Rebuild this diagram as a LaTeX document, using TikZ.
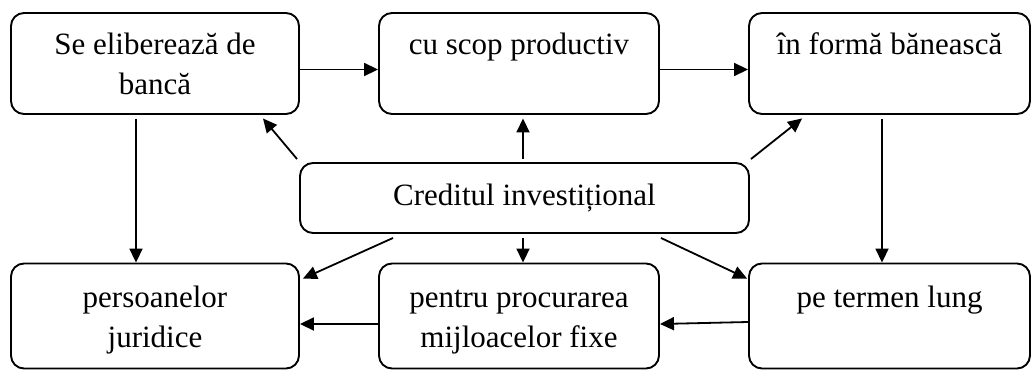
\documentclass[tikz,border=0pt]{standalone}
\usepackage{fontspec}
\setmainfont{Liberation Serif}
\usetikzlibrary{arrows.meta}
\newcommand\Ln{\rule[-9pt]{0pt}{40pt}}
\newcommand\Lc{\rule[-13pt]{0pt}{40pt}}
\begin{document}
\begin{tikzpicture}[x=1pt,y=-1pt,
  box/.style={draw, rounded corners=13pt, line width=1.9pt, inner sep=0pt, align=center,
    font=\fontsize{31}{40}\selectfont},
  arr/.style={line width=1.8pt, -{Triangle[length=14pt,width=13pt]}}]
\useasboundingbox (0,0) rectangle (1032,369);
\node[box, minimum width=288pt, minimum height=101pt] (b1) at (155,63.5) {\Ln Se eliberează de\\\Ln bancă};
\node[box, minimum width=280pt, minimum height=101pt] (b2) at (519,63.5) {\Ln cu scop productiv\\\Ln};
\node[box, minimum width=281pt, minimum height=101pt] (b3) at (889.5,63.5) {\Ln în formă bănească\\\Ln};
\node[box, minimum width=449pt, minimum height=70pt] (c) at (524.5,198) {\Lc Creditul investițional};
\node[box, minimum width=288pt, minimum height=105pt] (b4) at (155,316) {\Ln persoanelor\\\Ln juridice};
\node[box, minimum width=280pt, minimum height=105pt] (b5) at (519,316) {\Ln pentru procurarea\\\Ln mijloacelor fixe};
\node[box, minimum width=281pt, minimum height=105pt] (b6) at (889.5,316) {\Ln pe termen lung\\\Ln};
\draw[arr] ([yshift=-6pt]b1.east) -- ([yshift=-6pt]b2.west);
\draw[arr] ([yshift=-6pt]b2.east) -- ([yshift=-6pt]b3.west);
\draw[arr] ([xshift=-19pt,yshift=-4pt]b1.south) -- ([xshift=-19pt]b4.north);
\draw[arr] ([xshift=-7.5pt,yshift=-4pt]b3.south) -- ([xshift=-7.5pt]b6.north);
\draw[arr] ([xshift=-2pt,yshift=3pt]c.north west) -- ([xshift=-37pt,yshift=-3.5pt]b1.south east);
\draw[arr] ([xshift=-1.5pt,yshift=3pt]c.north) -- ([xshift=4pt,yshift=-3.5pt]b2.south);
\draw[arr] ([xshift=1pt,yshift=3pt]c.north east) -- ([xshift=54pt,yshift=-3.5pt]b3.south west);
\draw[arr] ([xshift=94pt,yshift=-4pt]c.south west) -- ([xshift=3pt,yshift=-16pt]b4.north east);
\draw[arr] ([xshift=-1.5pt,yshift=-4pt]c.south) -- ([xshift=4pt]b5.north);
\draw[arr] ([xshift=-89pt,yshift=-4pt]c.south east) -- ([xshift=-1pt,yshift=-16pt]b6.north west);
\draw[arr] ([yshift=-6pt]b6.west) -- ([yshift=-8pt]b5.east);
\draw[arr] ([yshift=-8pt]b5.west) -- ([yshift=-8pt]b4.east);
\end{tikzpicture}
\end{document}
